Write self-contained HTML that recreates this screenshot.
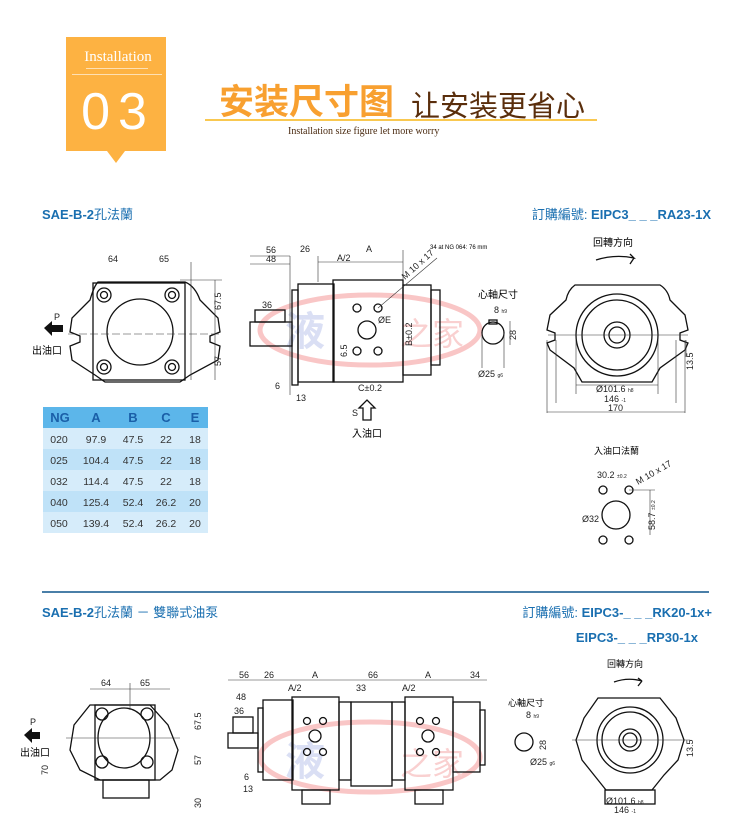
<!DOCTYPE html>
<html><head><meta charset="utf-8"><style>
html,body{margin:0;padding:0;background:#fff;}
svg{display:block;}
text{font-family:"Liberation Sans","Noto Sans CJK TC",sans-serif;}
.s{fill:none;stroke:#111;stroke-width:1.3;}
.t{stroke:#333;stroke-width:0.6;fill:none;}
.d{font-size:9px;fill:#222;}
</style></head><body>
<svg width="750" height="813" viewBox="0 0 750 813" xmlns="http://www.w3.org/2000/svg">
<!-- header -->
<rect x="66" y="37" width="100" height="114" fill="#fdb242"/>
<polygon points="107,151 125,151 116,163" fill="#fdb242"/>
<text x="118" y="61" text-anchor="middle" fill="#fff" style="font-family:'Liberation Serif',serif;font-size:15px">Installation</text>
<rect x="86" y="68" width="62" height="1" fill="#fff" opacity="0.6"/>
<rect x="72" y="74" width="90" height="1" fill="#fff" opacity="0.6"/>
<text x="118" y="129" text-anchor="middle" fill="#fff" style="font-size:52px;letter-spacing:8px">03</text>
<text x="219" y="114" fill="#f8a030" style="font-family:'Noto Sans CJK SC',sans-serif;font-size:35px;font-weight:bold">安装尺寸图</text>
<text x="411" y="116" fill="#5a2e0c" style="font-family:'Noto Sans CJK SC',sans-serif;font-size:29px">让安装更省心</text>
<rect x="205" y="119" width="392" height="2" fill="#f9c850"/>
<text x="288" y="134" fill="#4a2a10" style="font-family:'Liberation Serif',serif;font-size:10px">Installation size figure let more worry</text>

<!-- section titles -->
<text x="42" y="219" fill="#1a6fb0" style="font-size:13px;font-weight:bold">SAE-B-2<tspan font-weight="normal">孔法蘭</tspan></text>
<text x="711" y="219" text-anchor="end" fill="#1a6fb0" style="font-size:13px;font-weight:bold"><tspan font-weight="normal">訂購編號: </tspan>EIPC3_ _ _RA23-1X</text>
<rect x="42" y="591" width="667" height="2" fill="#4a7fa8"/>
<text x="42" y="617" fill="#1a6fb0" style="font-size:13px;font-weight:bold">SAE-B-2<tspan font-weight="normal">孔法蘭 － 雙聯式油泵</tspan></text>
<text x="712" y="617" text-anchor="end" fill="#1a6fb0" style="font-size:13px;font-weight:bold"><tspan font-weight="normal">訂購編號: </tspan>EIPC3-_ _ _RK20-1x+</text>
<text x="698" y="642" text-anchor="end" fill="#1a6fb0" style="font-size:13px;font-weight:bold">EIPC3-_ _ _RP30-1x</text>

<!-- watermarks -->
<g opacity="0.3">
<ellipse cx="370" cy="330" rx="110" ry="35" fill="none" stroke="#e44" stroke-width="5"/>
<text x="285" y="345" fill="#8899dd" style="font-size:40px;font-weight:bold">液</text>
<text x="400" y="345" fill="#e66" style="font-size:32px">之家</text>
<ellipse cx="370" cy="757" rx="110" ry="35" fill="none" stroke="#e44" stroke-width="5"/>
<text x="285" y="775" fill="#8899dd" style="font-size:40px;font-weight:bold">液</text>
<text x="400" y="775" fill="#e66" style="font-size:32px">之家</text>
</g>

<!-- VIEW 1 left flange -->
<g>
<path class="s" d="M98,282 L185,282 Q195,286 200,300 L218,318 L220,332 L210,336 L210,342 L220,346 L218,360 L190,375 L180,382 L105,382 L95,375 L72,360 L70,346 L80,342 L80,336 L70,332 L72,318 L90,300 Q94,286 98,282Z"/>
<rect class="s" x="93" y="283" width="92" height="97"/>
<ellipse class="s" cx="140" cy="332" rx="33" ry="33"/>
<g class="s"><circle cx="104" cy="295" r="7"/><circle cx="104" cy="295" r="3.5"/><circle cx="172" cy="295" r="7"/><circle cx="172" cy="295" r="3.5"/><circle cx="104" cy="367" r="7"/><circle cx="104" cy="367" r="3.5"/><circle cx="172" cy="367" r="7"/><circle cx="172" cy="367" r="3.5"/></g>
<line class="t" x1="68" y1="334" x2="220" y2="334" stroke-dasharray="8,3"/>
<line class="t" x1="191" y1="262" x2="191" y2="380"/>
<line class="t" x1="180" y1="280" x2="222" y2="280"/><line class="t" x1="215" y1="280" x2="215" y2="380"/>
<text class="d" x="108" y="262">64</text><text class="d" x="159" y="262">65</text>
<text class="d" transform="translate(221,310) rotate(-90)">67.5</text>
<text class="d" transform="translate(221,366) rotate(-90)">57</text>
<polygon points="44,328 52,321 52,325 63,325 63,332 52,332 52,336" fill="#111"/>
<text class="d" x="54" y="320">P</text>
<text x="32" y="354" style="font-size:10px">出油口</text>
</g>

<!-- Table -->
<g style="font-size:10.5px">
<rect x="43" y="407" width="165" height="21" fill="#5cb6ea"/>
<rect x="43" y="428" width="165" height="21" fill="#d6ecfa"/>
<rect x="43" y="449" width="165" height="21" fill="#bfe2f8"/>
<rect x="43" y="470" width="165" height="21" fill="#d6ecfa"/>
<rect x="43" y="491" width="165" height="21" fill="#bfe2f8"/>
<rect x="43" y="512" width="165" height="21" fill="#d6ecfa"/>
<g fill="#1a5fa8" font-weight="bold" font-size="13px" text-anchor="middle"><text x="60" y="422">NG</text><text x="96" y="422">A</text><text x="133" y="422">B</text><text x="166" y="422">C</text><text x="195" y="422">E</text></g>
<g fill="#333" text-anchor="middle">
<text x="59" y="443">020</text><text x="96" y="443">97.9</text><text x="133" y="443">47.5</text><text x="166" y="443">22</text><text x="195" y="443">18</text>
<text x="59" y="464">025</text><text x="96" y="464">104.4</text><text x="133" y="464">47.5</text><text x="166" y="464">22</text><text x="195" y="464">18</text>
<text x="59" y="485">032</text><text x="96" y="485">114.4</text><text x="133" y="485">47.5</text><text x="166" y="485">22</text><text x="195" y="485">18</text>
<text x="59" y="506">040</text><text x="96" y="506">125.4</text><text x="133" y="506">52.4</text><text x="166" y="506">26.2</text><text x="195" y="506">20</text>
<text x="59" y="527">050</text><text x="96" y="527">139.4</text><text x="133" y="527">52.4</text><text x="166" y="527">26.2</text><text x="195" y="527">20</text>
</g></g>

<!-- VIEW 1 side -->
<g>
<rect class="s" x="250" y="322" width="42" height="24"/>
<rect class="s" x="255" y="310" width="30" height="12"/>
<rect class="s" x="292" y="290" width="6" height="95"/>
<rect class="s" x="298" y="284" width="36" height="98"/>
<rect class="s" x="333" y="280" width="70" height="102"/>
<rect class="s" x="403" y="285" width="28" height="90"/>
<rect class="s" x="431" y="290" width="9" height="75"/>
<g class="s"><circle cx="357" cy="308" r="4"/><circle cx="378" cy="308" r="4"/><circle cx="357" cy="351" r="4"/><circle cx="378" cy="351" r="4"/><circle cx="367" cy="330" r="9"/></g>
<line class="t" x1="250" y1="256" x2="290" y2="256"/><line class="t" x1="250" y1="264" x2="290" y2="264"/>
<line class="t" x1="290" y1="256" x2="290" y2="395"/><line class="t" x1="318" y1="256" x2="318" y2="282"/>
<line class="t" x1="318" y1="262" x2="403" y2="262"/><line class="t" x1="403" y1="250" x2="403" y2="280"/>
<text class="d" x="266" y="253">56</text><text class="d" x="266" y="262">48</text>
<text class="d" x="300" y="252">26</text><text class="d" x="337" y="261">A/2</text><text class="d" x="366" y="252">A</text>
<text x="430" y="249" style="font-size:6px">34 at NG 064: 76 mm</text>
<text class="d" transform="translate(405,280) rotate(-42)">M 10 x 17</text>
<line class="t" x1="378" y1="308" x2="437" y2="258"/>
<text class="d" x="378" y="323">ØE</text>
<text class="d" x="262" y="308">36</text>
<text class="d" transform="translate(347,357) rotate(-90)">6.5</text>
<text class="d" transform="translate(412,346) rotate(-90)">B±0.2</text>
<text class="d" x="275" y="389">6</text><text class="d" x="296" y="401">13</text>
<text class="d" x="358" y="391">C±0.2</text>
<text class="d" x="352" y="416">S</text>
<path class="s" d="M363,420 L363,408 L359,408 L367,400 L375,408 L371,408 L371,420Z"/>
<text x="352" y="437" style="font-size:10px">入油口</text>
</g>

<!-- shaft detail -->
<g>
<text x="478" y="298" style="font-size:10px">心軸尺寸</text>
<text class="d" x="494" y="313">8 <tspan font-size="5">h9</tspan></text>
<circle class="s" cx="493" cy="333" r="11"/>
<rect class="s" x="489" y="320" width="8" height="4"/>
<line class="t" x1="510" y1="321" x2="510" y2="345"/>
<text class="d" transform="translate(516,340) rotate(-90)">28</text>
<line class="t" x1="482" y1="333" x2="482" y2="368"/><line class="t" x1="504" y1="333" x2="504" y2="368"/>
<text class="d" x="478" y="377">Ø25 <tspan font-size="5">g6</tspan></text>
</g>

<!-- rear view -->
<g>
<text x="593" y="246" style="font-size:10px">回轉方向</text>
<path class="s" d="M596,260 Q615,254 634,258 L630,254 M634,258 L630,264"/>
<path class="s" d="M575,285 L660,285 Q668,290 670,300 L685,315 L688,330 L680,333 L680,340 L688,343 L685,350 L660,368 L652,382 L582,382 L574,368 L550,350 L547,343 L555,340 L555,333 L547,330 L550,315 L566,300 Q568,290 575,285Z"/>
<circle class="s" cx="617" cy="335" r="41"/><circle class="s" cx="617" cy="335" r="35"/>
<circle class="s" cx="617" cy="335" r="13"/><circle class="s" cx="617" cy="335" r="8"/>
<line class="t" x1="548" y1="335" x2="688" y2="335"/>
<line class="t" x1="576" y1="340" x2="576" y2="394"/><line class="t" x1="658" y1="340" x2="658" y2="394"/>
<line class="t" x1="576" y1="385" x2="658" y2="385"/>
<text class="d" x="596" y="392">Ø101.6 <tspan font-size="5">h8</tspan></text>
<line class="t" x1="556" y1="340" x2="556" y2="403"/><line class="t" x1="676" y1="340" x2="676" y2="403"/>
<text class="d" x="604" y="402">146 <tspan font-size="5">-1</tspan></text>
<line class="t" x1="547" y1="340" x2="547" y2="413"/><line class="t" x1="685" y1="340" x2="685" y2="413"/>
<line class="t" x1="547" y1="412" x2="685" y2="412"/>
<text class="d" x="608" y="411">170</text>
<line class="t" x1="686" y1="340" x2="686" y2="357"/>
<text class="d" transform="translate(693,370) rotate(-90)">13.5</text>
</g>

<!-- inlet flange -->
<g>
<text x="594" y="454" style="font-size:9px">入油口法蘭</text>
<text class="d" x="597" y="478">30.2 <tspan font-size="5">±0.2</tspan></text>
<text class="d" transform="translate(638,485) rotate(-30)">M 10 x 17</text>
<g class="s"><circle cx="603" cy="490" r="4"/><circle cx="629" cy="490" r="4"/><circle cx="603" cy="540" r="4"/><circle cx="629" cy="540" r="4"/><circle cx="616" cy="515" r="14"/></g>
<line class="t" x1="629" y1="490" x2="655" y2="490"/><line class="t" x1="650" y1="490" x2="650" y2="535"/>
<text class="d" transform="translate(655,530) rotate(-90)">58.7 <tspan font-size="5">±0.2</tspan></text>
<text class="d" x="582" y="522">Ø32</text>
</g>

<!-- BOTTOM left flange -->
<g>
<path class="s" d="M90,705 L150,705 L168,725 L178,750 L172,770 L160,780 L100,780 L80,770 L70,750 L74,725Z"/>
<rect class="s" x="95" y="705" width="60" height="75"/>
<ellipse class="s" cx="124" cy="738" rx="26" ry="30"/>
<g class="s"><circle cx="102" cy="714" r="6"/><circle cx="147" cy="714" r="6"/><circle cx="102" cy="762" r="6"/><circle cx="147" cy="762" r="6"/></g>
<rect class="s" x="103" y="780" width="46" height="18"/>
<line class="t" x1="66" y1="738" x2="180" y2="738"/>
<line class="t" x1="130" y1="683" x2="130" y2="710"/><line class="t" x1="90" y1="689" x2="170" y2="689"/>
<text class="d" x="101" y="686">64</text><text class="d" x="140" y="686">65</text>
<text class="d" transform="translate(201,730) rotate(-90)">67.5</text>
<text class="d" transform="translate(201,765) rotate(-90)">57</text>
<text class="d" transform="translate(201,808) rotate(-90)">30</text>
<text class="d" transform="translate(48,775) rotate(-90)">70</text>
<polygon points="24,735 32,728 32,732 40,732 40,739 32,739 32,743" fill="#111"/>
<text class="d" x="30" y="725">P</text>
<text x="20" y="756" style="font-size:10px">出油口</text>
</g>

<!-- BOTTOM side view -->
<g>
<rect class="s" x="228" y="733" width="30" height="15"/>
<rect class="s" x="233" y="717" width="20" height="16"/>
<rect class="s" x="258" y="708" width="5" height="64"/>
<rect class="s" x="263" y="700" width="30" height="80"/>
<rect class="s" x="292" y="697" width="47" height="93"/>
<rect class="s" x="339" y="702" width="12" height="78"/>
<rect class="s" x="351" y="702" width="41" height="84"/>
<rect class="s" x="392" y="702" width="13" height="78"/>
<rect class="s" x="405" y="697" width="48" height="93"/>
<rect class="s" x="453" y="702" width="27" height="70"/>
<rect class="s" x="480" y="710" width="5" height="55"/>
<g class="s"><circle cx="307" cy="721" r="3.5"/><circle cx="323" cy="721" r="3.5"/><circle cx="307" cy="752" r="3.5"/><circle cx="323" cy="752" r="3.5"/><circle cx="315" cy="736" r="6"/>
<circle cx="420" cy="721" r="3.5"/><circle cx="436" cy="721" r="3.5"/><circle cx="420" cy="752" r="3.5"/><circle cx="436" cy="752" r="3.5"/><circle cx="428" cy="736" r="6"/></g>
<rect class="s" x="302" y="790" width="28" height="14"/><rect class="s" x="415" y="790" width="28" height="14"/>
<line class="t" x1="228" y1="680" x2="487" y2="680"/>
<text class="d" x="239" y="678">56</text><text class="d" x="264" y="678">26</text><text class="d" x="312" y="678">A</text><text class="d" x="368" y="678">66</text><text class="d" x="425" y="678">A</text><text class="d" x="470" y="678">34</text>
<text class="d" x="288" y="691">A/2</text><text class="d" x="356" y="691">33</text><text class="d" x="402" y="691">A/2</text>
<text class="d" x="236" y="700">48</text><text class="d" x="234" y="714">36</text>
<text class="d" x="244" y="780">6</text><text class="d" x="243" y="792">13</text>
</g>

<!-- BOTTOM shaft + rear -->
<g>
<text x="508" y="706" style="font-size:9px">心軸尺寸</text>
<text class="d" x="526" y="718">8 <tspan font-size="5">h9</tspan></text>
<circle class="s" cx="524" cy="742" r="9"/>
<text class="d" transform="translate(546,750) rotate(-90)">28</text>
<text class="d" x="530" y="765">Ø25 <tspan font-size="5">g6</tspan></text>
<text x="607" y="667" style="font-size:9px">回轉方向</text>
<path class="s" d="M614,682 Q628,677 642,681 L638,678 M642,681 L638,686"/>
<path class="s" d="M598,698 L660,698 L676,718 L684,740 L678,760 L664,775 L652,790 L606,790 L594,775 L582,760 L576,740 L584,718Z"/>
<circle class="s" cx="630" cy="740" r="33"/><circle class="s" cx="630" cy="740" r="28"/>
<circle class="s" cx="630" cy="740" r="11"/><circle class="s" cx="630" cy="740" r="7"/>
<rect class="s" x="605" y="790" width="50" height="14"/>
<line class="t" x1="572" y1="740" x2="690" y2="740"/>
<text class="d" transform="translate(693,757) rotate(-90)">13.5</text>
<text class="d" x="606" y="804">Ø101.6 <tspan font-size="5">h8</tspan></text>
<text class="d" x="614" y="813">146 <tspan font-size="5">-1</tspan></text>
</g>
</svg>
</body></html>
